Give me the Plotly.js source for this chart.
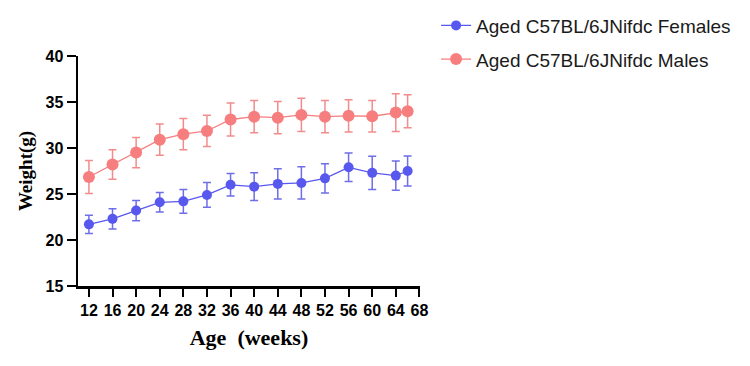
<!DOCTYPE html>
<html>
<head>
<meta charset="utf-8">
<script src="https://cdn.plot.ly/plotly-3.0.1.min.js"></script>
<style>html,body{margin:0;padding:0;background:#fff}#chart{width:750px;height:366px}</style>
</head>
<body>
<div id="chart"></div>
<script>
const ages = [12, 16, 20, 24, 28, 32, 36, 40, 44, 48, 52, 56, 60, 64, 66];
const femalesMean = [21.7, 22.3, 23.2, 24.1, 24.2, 24.9, 26.0, 25.8, 26.1, 26.2, 26.7, 27.9, 27.3, 27.0, 27.5];
const femalesErr = [1.0, 1.1, 1.1, 1.05, 1.3, 1.35, 1.23, 1.5, 1.65, 1.75, 1.6, 1.55, 1.8, 1.6, 1.63];
const malesMean = [26.85, 28.2, 29.5, 30.9, 31.5, 31.85, 33.1, 33.4, 33.3, 33.6, 33.4, 33.5, 33.45, 33.85, 34.0];
const malesErr = [1.8, 1.6, 1.65, 1.7, 1.7, 1.7, 1.8, 1.75, 1.75, 1.8, 1.75, 1.75, 1.7, 2.05, 1.8];
const xTicks = [12, 16, 20, 24, 28, 32, 36, 40, 44, 48, 52, 56, 60, 64, 68];
const yTicks = [15, 20, 25, 30, 35, 40];

const blue = 'rgb(88,88,238)';
const pink = 'rgb(246,126,126)';

const traces = [
  {
    x: ages, y: femalesMean, name: 'Aged C57BL/6JNifdc Females',
    type: 'scatter', mode: 'lines+markers', legendgroup: 'f',
    line: {color: blue, width: 1.3},
    marker: {color: blue, size: 10},
    error_y: {type: 'data', array: femalesErr, visible: true, color: 'rgb(110,110,230)', thickness: 1.5, width: 4}
  },
  {
    x: ages, y: malesMean, name: 'Aged C57BL/6JNifdc Males',
    type: 'scatter', mode: 'lines+markers', legendgroup: 'm',
    line: {color: pink, width: 1.3},
    marker: {color: pink, size: 12},
    error_y: {type: 'data', array: malesErr, visible: true, color: 'rgb(242,140,140)', thickness: 1.5, width: 4}
  }
];

const layout = {
  width: 750, height: 366,
  margin: {l: 78, r: 330, t: 56, b: 80, autoexpand: false},
  paper_bgcolor: '#fff', plot_bgcolor: '#fff',
  showlegend: true,
  legend: {
    x: 1.047, y: 1.215, xanchor: 'left', yanchor: 'top',
    font: {family: 'Liberation Sans, Arial, sans-serif', size: 19, color: '#1a1a1a'},
    tracegroupgap: 6, traceorder: 'grouped', bgcolor: 'rgba(0,0,0,0)'
  },
  xaxis: {
    range: [10.15, 68.1], tickvals: xTicks, ticktext: xTicks.map(String),
    showgrid: false, zeroline: false, showline: true, linecolor: '#000', linewidth: 2.5,
    ticks: 'outside', ticklen: 8, tickwidth: 2, tickcolor: '#000',
    tickfont: {family: 'Liberation Sans, Arial, sans-serif', size: 16, color: '#000', weight: 'bold'},
    title: {text: 'Age  (weeks)', standoff: 12, font: {family: 'Liberation Serif, Times New Roman, serif', size: 22, color: '#000', weight: 'bold'}}
  },
  yaxis: {
    range: [15, 40], tickvals: yTicks, ticktext: yTicks.map(String),
    showgrid: false, zeroline: false, showline: true, linecolor: '#000', linewidth: 2.5,
    ticks: 'outside', ticklen: 9, tickwidth: 2, tickcolor: '#000',
    tickfont: {family: 'Liberation Sans, Arial, sans-serif', size: 16, color: '#000', weight: 'bold'},
    title: {text: 'Weight(g)', standoff: 8, font: {family: 'Liberation Serif, Times New Roman, serif', size: 19, color: '#000', weight: 'bold'}}
  }
};

Plotly.newPlot('chart', traces, layout, {displayModeBar: false, staticPlot: true});
</script>
</body>
</html>
